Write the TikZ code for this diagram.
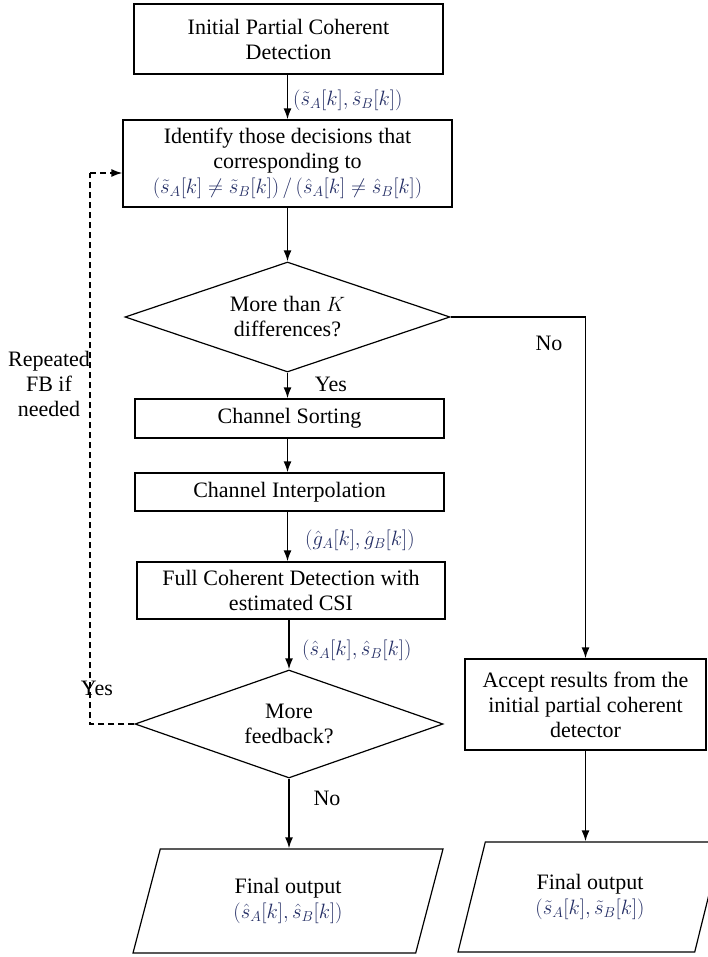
\documentclass[tikz,border=0pt]{standalone}
\usepackage{fontspec}
\setmainfont{Liberation Serif}
\usetikzlibrary{shapes.geometric,arrows.meta}
\definecolor{mathc}{RGB}{35,45,100}
\newcommand\mth[1]{\textcolor{mathc}{$#1$}}
\begin{document}
\begin{tikzpicture}[x=1pt,y=-1pt,
  font=\fontsize{22}{25}\selectfont,
  box/.style={draw,line width=1.2pt,rectangle,align=center,inner sep=0pt},
  dec/.style={draw,line width=1.2pt,diamond,shape aspect=3,align=center,inner sep=0pt},
  io/.style={draw,line width=1.2pt,trapezium,trapezium left angle=59,trapezium right angle=121,trapezium stretches body,align=center,inner sep=0pt},
  arr/.style={line width=1.7pt,-{Latex[length=11pt,width=8pt]}},
  fbline/.style={line width=1.6pt,dash pattern=on 6pt off 4pt},
  lbl/.style={inner sep=0pt}]
\useasboundingbox (0,0) rectangle (707,957);

\node[box,minimum width=309pt,minimum height=70pt] (init) at (288.5,39) {Initial Partial Coherent\\Detection};
\node[box,minimum width=329pt,minimum height=87pt] (ident) at (287.5,163.5) {Identify those decisions that\\corresponding to\\\mth{(\tilde s_A[k]\neq\tilde s_B[k])\,/\,(\hat s_A[k]\neq\hat s_B[k])}};
\node[dec,minimum width=325pt,minimum height=110pt] (d1) at (287.5,317) {More than $K$\\differences?};
\node[box,minimum width=309pt,minimum height=39pt] (sort) at (289.5,418.5) {Channel Sorting};
\node[box,minimum width=309pt,minimum height=38pt] (interp) at (289.5,492) {Channel Interpolation};
\node[box,minimum width=308pt,minimum height=57pt] (full) at (291,590.5) {Full Coherent Detection with\\estimated CSI};
\node[dec,minimum width=308pt,minimum height=108pt] (d2) at (289,724) {More\\feedback?};
\node[box,minimum width=241pt,minimum height=91pt] (acc) at (585.5,704.5) {Accept results from the\\initial partial coherent\\detector};
\node[io,minimum width=310pt,minimum height=104pt] (outL) at (288,901) {Final output\\\mth{(\hat s_A[k],\hat s_B[k])}};
\node[io,minimum width=264pt,minimum height=110pt] (outR) at (590,897) {Final output\\\mth{(\tilde s_A[k],\tilde s_B[k])}};

\node[lbl,anchor=west] (l1) at (293,100) {\mth{(\tilde s_A[k],\tilde s_B[k])}};
\node[lbl] (yes1) at (331,384) {Yes};
\node[lbl,anchor=west] (l2) at (305,540) {\mth{(\hat g_A[k],\hat g_B[k])}};
\node[lbl,anchor=west] (l3) at (302,650) {\mth{(\hat s_A[k],\hat s_B[k])}};
\node[lbl] (no1) at (549,343) {No};
\node[lbl] (yes2) at (97,688) {Yes};
\node[lbl] (no2) at (327,798) {No};
\node[lbl,align=center] (rep) at (49,384) {Repeated\\FB if\\needed};

\draw[arr] (init.south -| ident.north) -- (ident.north);
\draw[arr] (ident.south) -- (d1.north);
\draw[arr] (d1.south) -- (d1.south |- sort.north);
\draw[arr] (sort.south -| d1.south) -- (d1.south |- interp.north);
\draw[arr] (interp.south -| d1.south) -- (d1.south |- full.north);
\draw[arr] (full.south -| d2.north) -- (d2.north);
\draw[arr] (d2.south) -- (d2.south |- outL.north);
\draw[arr] (d1.east) -| (acc.north);
\draw[arr] (acc.south) -- (acc.south |- outR.north);
\coordinate (fb) at (90,173);
\draw[fbline] (d2.west) -| (fb);
\draw[fbline,arr] (fb) -- (fb -| ident.west);
\end{tikzpicture}
\end{document}
